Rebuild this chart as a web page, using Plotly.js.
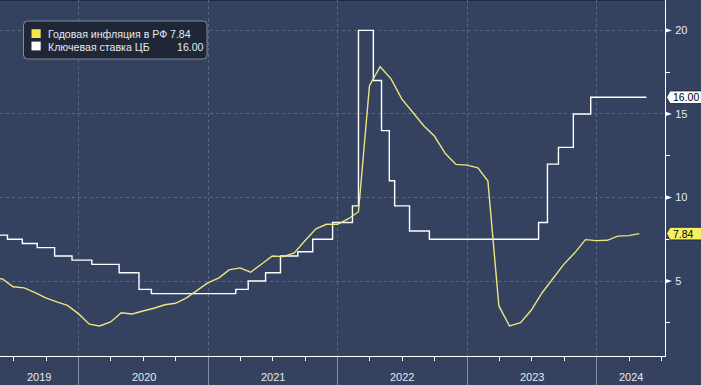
<!DOCTYPE html>
<html>
<head>
<meta charset="utf-8">
<script src="https://cdn.plot.ly/plotly-3.0.1.min.js"></script>
<style>
html,body{margin:0;padding:0;background:#344260;}
#chart{width:701px;height:385px;}
</style>
</head>
<body>
<div id="chart"></div>
<script>
const inflName = 'Годовая инфляция в РФ';
const rateName = 'Ключевая ставка ЦБ';

const inflDates = ['2019-04-30','2019-05-31','2019-06-30','2019-07-31','2019-08-31','2019-09-30','2019-10-31','2019-11-30','2019-12-31',
'2020-01-31','2020-02-29','2020-03-31','2020-04-30','2020-05-31','2020-06-30','2020-07-31','2020-08-31','2020-09-30','2020-10-31','2020-11-30','2020-12-31',
'2021-01-31','2021-02-28','2021-03-31','2021-04-30','2021-05-31','2021-06-30','2021-07-31','2021-08-31','2021-09-30','2021-10-31','2021-11-30','2021-12-31',
'2022-01-31','2022-02-28','2022-03-31','2022-04-30','2022-05-31','2022-06-30','2022-07-31','2022-08-31','2022-09-30','2022-10-31','2022-11-30','2022-12-31',
'2023-01-31','2023-02-28','2023-03-31','2023-04-30','2023-05-31','2023-06-30','2023-07-31','2023-08-31','2023-09-30','2023-10-31','2023-11-30','2023-12-31',
'2024-01-31','2024-02-29','2024-03-31','2024-04-30'];
const inflValues = [5.17,5.13,4.66,4.59,4.31,3.99,3.75,3.54,3.05,
2.42,2.31,2.55,3.10,3.03,3.21,3.37,3.58,3.67,3.99,4.42,4.91,
5.19,5.67,5.79,5.53,6.02,6.50,6.46,6.68,7.41,8.13,8.40,8.39,
8.73,9.15,16.69,17.83,17.10,15.90,15.10,14.30,13.68,12.63,11.98,11.94,
11.77,10.99,3.51,2.31,2.51,3.25,4.30,5.15,6.00,6.69,7.48,7.42,
7.44,7.69,7.72,7.84];

const rateDates = ['2018-12-14','2019-06-14','2019-07-26','2019-09-06','2019-10-25','2019-12-13','2020-02-07','2020-04-24','2020-06-19','2020-07-24',
'2021-03-19','2021-04-23','2021-06-11','2021-07-23','2021-09-10','2021-10-22','2021-12-17','2022-02-11','2022-02-28','2022-04-11','2022-05-04',
'2022-05-26','2022-06-10','2022-07-22','2022-09-16','2023-07-21','2023-08-15','2023-09-15','2023-10-27','2023-12-15','2024-05-20'];
const rateValues = [7.75,7.50,7.25,7.00,6.50,6.25,6.00,5.50,4.50,4.25,
4.50,5.00,5.50,6.50,6.75,7.50,8.50,9.50,20.00,17.00,14.00,
11.00,9.50,8.00,7.50,8.50,12.00,13.00,15.00,16.00,16.00];

const yearLabels = ['2019','2020','2021','2022','2023','2024'];
const yTickVals = [5,10,15,20];
const yMinorVals = [2.5,7.5,12.5,17.5];

const xRange = ['2019-05-24','2024-07-11 12:00'];
const yRange = [0.515, 21.82];

const W = 701, H = 385, ML = 0, MR = 36, MT = 0, MB = 29;
const PW = W - ML - MR, PH = H - MT - MB;

const bg = '#344260';
const gridColor = '#5a6988';
const textColor = '#e6e9ef';
const inflColor = '#ece57c';
const inflTag = '#f7f061';
const rateColor = '#ffffff';
const font = 'Liberation Sans, Arial, sans-serif';

const lastInfl = inflValues[inflValues.length - 1];
const lastRate = rateValues[rateValues.length - 1];

const traces = [
  {x: rateDates, y: rateValues, type: 'scatter', mode: 'lines', name: rateName,
   line: {color: rateColor, width: 1.4, shape: 'hv'}, hoverinfo: 'skip'},
  {x: inflDates, y: inflValues, type: 'scatter', mode: 'lines', name: inflName,
   line: {color: inflColor, width: 1.4}, hoverinfo: 'skip'}
];

const shapes = [];
const annotations = [];

// y-axis arrow ticks
yTickVals.forEach(v => {
  shapes.push({type: 'path', xref: 'paper', yref: 'y', xsizemode: 'pixel', ysizemode: 'pixel',
    xanchor: 1, yanchor: v, path: 'M 0 2.4 L 7 0 L 0 -2.4 Z',
    fillcolor: '#ffffff', line: {width: 0}});
});

// last-value tags
function tag(val, fill, label) {
  shapes.push({type: 'path', xref: 'paper', yref: 'y', xsizemode: 'pixel', ysizemode: 'pixel',
    xanchor: 1, yanchor: val, path: 'M 1.5 0 L 5 6.3 L 37 6.3 L 37 -6.3 L 5 -6.3 Z',
    fillcolor: fill, line: {color: '#1a1e28', width: 0.8}, layer: 'above'});
  annotations.push({xref: 'paper', yref: 'y', x: 1, y: val, xanchor: 'left', yanchor: 'middle',
    xshift: 6, text: label, showarrow: false, font: {family: font, size: 10.5, color: '#000000'}});
}
tag(lastRate, '#ffffff', lastRate.toFixed(2));
tag(lastInfl, inflTag, lastInfl.toFixed(2));

// year labels centred on visible part of each year
const r0 = new Date(xRange[0].replace(' ', 'T')).getTime();
const r1 = new Date(xRange[1].replace(' ', 'T')).getTime();
yearLabels.forEach(y => {
  const s = Math.max(r0, new Date(y + '-01-01T00:00').getTime());
  const e = Math.min(r1, new Date((+y + 1) + '-01-01T00:00').getTime());
  const mid = new Date((s + e) / 2);
  const iso = mid.getFullYear() + '-' + String(mid.getMonth() + 1).padStart(2, '0') + '-' +
    String(mid.getDate()).padStart(2, '0');
  annotations.push({xref: 'x', yref: 'paper', x: iso, y: 0, yshift: -20.5, xanchor: 'center', yanchor: 'middle',
    text: y, showarrow: false, font: {family: font, size: 11, color: textColor}});
});

// custom legend
const px = v => v / PW;
const py = v => 1 - v / PH;
shapes.push({type: 'path', xref: 'paper', yref: 'paper', xsizemode: 'pixel', ysizemode: 'pixel',
  xanchor: 0, yanchor: 1,
  path: 'M 27.5 -21 L 203 -21 Q 207 -21 207 -25 L 207 -55 Q 207 -59 203 -59 L 27.5 -59 Q 23.5 -59 23.5 -55 L 23.5 -25 Q 23.5 -21 27.5 -21 Z',
  fillcolor: '#1f2636', line: {color: '#858c9c', width: 1}, layer: 'above'});
shapes.push({type: 'path', xref: 'paper', yref: 'paper', xsizemode: 'pixel', ysizemode: 'pixel',
  xanchor: 0, yanchor: 1, path: 'M 31.5 -29.2 L 40.7 -29.2 L 40.7 -38 L 31.5 -38 Z',
  fillcolor: '#f3e84a', line: {width: 0}, layer: 'above'});
shapes.push({type: 'path', xref: 'paper', yref: 'paper', xsizemode: 'pixel', ysizemode: 'pixel',
  xanchor: 0, yanchor: 1, path: 'M 31.5 -41.6 L 40.7 -41.6 L 40.7 -50.4 L 31.5 -50.4 Z',
  fillcolor: '#ffffff', line: {width: 0}, layer: 'above'});
const legRows = [[inflName, lastInfl.toFixed(2), 34.3, 168.3], [rateName, lastRate.toFixed(2), 47, 175]];
legRows.forEach(r => {
  annotations.push({xref: 'paper', yref: 'paper', x: px(45.5), y: py(r[2]), xanchor: 'left', yanchor: 'middle',
    text: r[0], showarrow: false, font: {family: font, size: 10.6, color: textColor}});
  annotations.push({xref: 'paper', yref: 'paper', x: px(r[3]), y: py(r[2]), xanchor: 'left', yanchor: 'middle',
    text: r[1], showarrow: false, font: {family: font, size: 10.6, color: textColor}});
});

// thin dark strip at the very top
shapes.push({type: 'rect', xref: 'paper', yref: 'paper', x0: 0, x1: 1, y0: 1 - 1 / PH, y1: 1,
  fillcolor: '#222a3b', line: {width: 0}, layer: 'below'});

const layout = {
  width: W, height: H,
  margin: {l: ML, r: MR, t: MT, b: MB, pad: 0},
  paper_bgcolor: bg, plot_bgcolor: bg,
  showlegend: false,
  font: {family: font, color: textColor, size: 11},
  xaxis: {
    type: 'date', range: xRange, fixedrange: true,
    showline: true, linecolor: '#ffffff', linewidth: 1,
    tickmode: 'linear', tick0: '2020-01-01', dtick: 'M12',
    ticks: 'outside', ticklen: 29, tickwidth: 1, tickcolor: '#8790a4',
    showticklabels: false,
    showgrid: true, gridcolor: gridColor, griddash: '3px,3px', gridwidth: 1,
    zeroline: false,
    minor: {tickmode: 'linear', tick0: '2020-01-01', dtick: 'M3', ticks: 'outside', ticklen: 4,
      tickwidth: 1, tickcolor: '#ffffff', showgrid: false}
  },
  yaxis: {
    side: 'right', range: yRange, fixedrange: true,
    showline: true, linecolor: '#ffffff', linewidth: 1,
    tickmode: 'array', tickvals: yTickVals, ticktext: yTickVals.map(String),
    ticks: 'outside', ticklen: 7, tickcolor: 'rgba(0,0,0,0)',
    tickfont: {family: font, size: 11, color: textColor},
    showgrid: true, gridcolor: gridColor, griddash: '3px,3px', gridwidth: 1,
    zeroline: false,
    minor: {tickmode: 'array', tickvals: yMinorVals, ticks: 'outside', ticklen: 4, tickwidth: 1,
      tickcolor: '#ffffff', showgrid: false}
  },
  shapes: shapes,
  annotations: annotations
};

Plotly.newPlot('chart', traces, layout, {displayModeBar: false, staticPlot: true});
</script>
</body>
</html>
